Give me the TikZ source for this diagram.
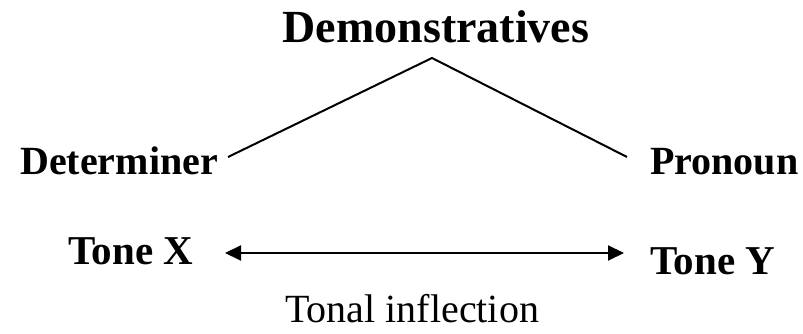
\documentclass[tikz,border=0pt]{standalone}
\usepackage{fontspec}
\setmainfont{Liberation Serif}
\usetikzlibrary{arrows.meta}
\begin{document}
\begin{tikzpicture}[x=1pt,y=1pt,
  lbl/.style={inner sep=0pt,font=\bfseries\fontsize{40}{46}\selectfont},
  conn/.style={line width=2pt},
  tone/.style={line width=2pt,{Triangle[length=16pt,width=15pt]}-{Triangle[length=16pt,width=15pt]}}]
\useasboundingbox (0,0) rectangle (803,334);
\node[lbl,anchor=base,font=\bfseries\fontsize{46}{52}\selectfont] (dem) at (436,291) {Demonstratives};
\node[lbl,anchor=base west] (det) at (20,159) {Determiner};
\node[lbl,anchor=base west] (pro) at (650,159) {Pronoun};
\node[lbl,anchor=base west,font=\bfseries\fontsize{41}{46}\selectfont] (tx) at (68,69) {Tone X};
\node[lbl,anchor=base west,font=\bfseries\fontsize{41}{46}\selectfont] (ty) at (650,59) {Tone Y};
\node[inner sep=0pt,anchor=base west,font=\fontsize{40}{46}\selectfont] (ti) at (285,11) {Tonal inflection};
\coordinate (apex) at (432,276);
\coordinate (dl) at (228,177);
\coordinate (dr) at (627,177);
\coordinate (al) at (225,81);
\coordinate (ar) at (624,81);
\draw[conn] (dl) -- (apex) -- (dr);
\draw[tone] (al) -- (ar);
\end{tikzpicture}
\end{document}
